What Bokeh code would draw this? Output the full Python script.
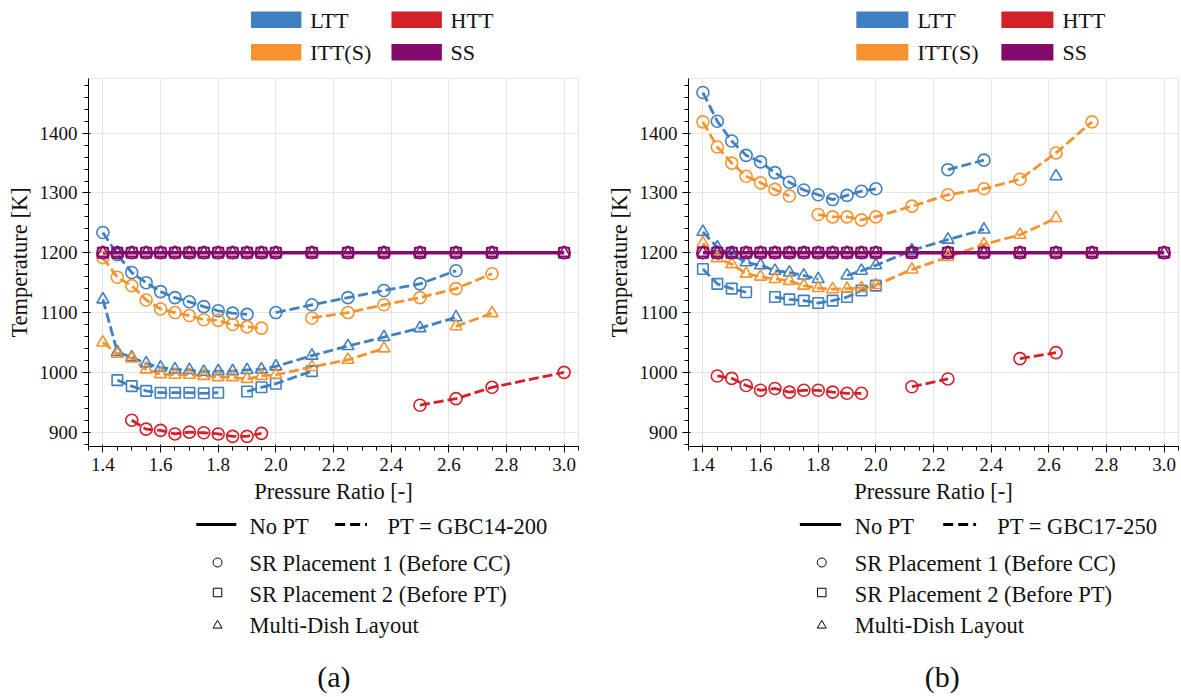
import numpy as np
from bokeh.plotting import figure
from bokeh.layouts import row, column
from bokeh.models import Range1d, SingleIntervalTicker, PrintfTickFormatter
from bokeh.core.properties import value
from bokeh.embed import file_html
from bokeh.resources import INLINE

nan = np.nan

# Pressure-ratio grid shared by every series (NaN = no converged design point)
pressure_ratio = [1.4, 1.45, 1.5, 1.55, 1.6, 1.65, 1.7, 1.75, 1.8, 1.85, 1.9, 1.95,
                  2.0, 2.125, 2.25, 2.375, 2.5, 2.625, 2.75, 3.0]

# ---- (a) PT = GBC14-200 : turbine inlet temperature [K]
a_ltt_sr1 = [1234, 1197, 1167, 1150, 1135, 1125, 1118, 1110, 1103, 1099, 1097, nan,
             1100, 1113, 1125, 1137, 1148, 1170, nan, nan]
a_ltt_sr2 = [nan, 987, 977, 969, 966, 966, 966, 965, 966, nan, 968, 975,
             981, 1002, nan, nan, nan, nan, nan, nan]
a_ltt_md = [1122, 1034, 1025, 1015, 1008, 1005, 1004, 1001, 1002, 1002, 1004, 1005,
            1010, 1028, 1044, 1059, 1074, 1092, nan, nan]
a_itt_sr1 = [1192, 1159, 1145, 1121, 1106, 1100, 1095, 1088, 1087, 1080, 1076, 1074,
             nan, 1091, 1100, 1113, 1125, 1140, 1165, nan]
a_itt_md = [1050, 1031, 1023, 1005, 997, 996, 996, 994, 992, 992, 989, 994,
            996, 1009, 1021, 1040, nan, 1077, 1099, nan]
a_htt_sr1 = [nan, nan, 920, 905, 903, 897, 900, 899, 897, 893, 893, 898,
             nan, nan, nan, nan, 945, 956, 975, 1000]
a_ss = [1200] * 20

# ---- (b) PT = GBC17-250
b_ltt_sr1 = [1468, 1420, 1387, 1363, 1352, 1334, 1318, 1305, 1297, 1289, 1296, 1303,
             1307, nan, 1339, 1355, nan, nan, nan, nan]
b_ltt_sr2 = [1173, 1148, 1140, 1134, nan, 1126, 1122, 1120, 1116, 1120, 1126, 1137,
             1145, nan, nan, nan, nan, nan, nan, nan]
b_ltt_md = [1235, 1209, 1197, 1184, 1179, 1170, 1167, 1162, 1156, nan, 1162, 1170,
            1179, 1204, 1222, 1239, nan, 1328, nan, nan]
b_itt_sr1 = [1419, 1377, 1350, 1328, 1317, 1306, 1295, nan, 1264, 1260, 1260, 1255,
             1260, 1278, 1297, 1307, 1323, 1367, 1419, nan]
b_itt_md = [1216, 1191, 1181, 1165, 1160, 1156, 1153, 1145, 1141, 1139, 1140, 1141,
            1146, 1172, 1193, 1214, 1230, 1258, nan, nan]
b_htt_sr1 = [nan, 994, 990, 978, 970, 973, 967, 970, 970, 967, 965, 965,
             nan, 976, 989, nan, 1023, 1033, nan, nan]
b_ss = [1200] * 20

cycle_names = ["LTT", "HTT", "ITT(S)", "SS"]
marker_names = ["SR Placement 1 (Before CC)", "SR Placement 2 (Before PT)", "Multi-Dish Layout"]

C_LTT = "#4080c1"
C_ITT = "#f7932f"
C_HTT = "#d42027"
C_SS = "#840b6b"
cycle_colors = [C_LTT, C_HTT, C_ITT, C_SS]

FONT = "Liberation Serif"
INK = "#111111"

TOP_H, MAIN_H, BOT_H = 70, 438, 189


def main_plot(width, series, ss):
    p = figure(width=width, height=MAIN_H,
               x_range=Range1d(1.35, 3.05), y_range=Range1d(876, 1491.5),
               output_backend="svg", toolbar_location=None,
               min_border_left=88, min_border_right=width - 88 - 490,
               min_border_top=8, min_border_bottom=62)
    p.xaxis.ticker = SingleIntervalTicker(interval=0.2, num_minor_ticks=4)
    p.xaxis.formatter = PrintfTickFormatter(format="%.1f")
    p.yaxis.ticker = SingleIntervalTicker(interval=100, num_minor_ticks=5)
    p.xaxis.axis_label = "Pressure Ratio [-]"
    p.yaxis.axis_label = "Temperature [K]"
    for ax in (p.xaxis, p.yaxis):
        ax.major_label_text_font = FONT
        ax.major_label_text_font_size = "19px"
        ax.major_label_text_color = INK
        ax.axis_label_text_font = FONT
        ax.axis_label_text_font_size = "22.5px"
        ax.axis_label_text_font_style = "normal"
        ax.axis_label_text_color = INK

    # dashed cycles with a power turbine
    for vals, col, mk in series:
        p.line(pressure_ratio, vals, line_color=col, line_width=2.8, line_dash="10 4")
    # simple cycle: no power turbine, solid line
    p.line(pressure_ratio, ss, line_color=C_SS, line_width=3.5)

    sizes = {"circle": 12, "square": 10.5, "triangle": 12}
    for vals, col, mk in series:
        p.scatter(pressure_ratio, vals, marker=mk, size=sizes[mk], fill_color=None,
                  line_color=col, line_width=1.6)
    for mk in ("circle", "square", "triangle"):
        p.scatter(pressure_ratio, ss, marker=mk, size=sizes[mk], fill_color=None,
                  line_color=C_SS, line_width=1.6)
    return p


def bare(width, height):
    f = figure(width=width, height=height, x_range=Range1d(0, width),
               y_range=Range1d(height, 0), output_backend="svg",
               toolbar_location=None, min_border=0,
               x_axis_location=None, y_axis_location=None)
    f.outline_line_color = None
    f.grid.visible = False
    return f


def top_legend(width):
    t = bare(width, TOP_H)
    left = [199, 371, 199, 371]
    top = [11, 11, 43.5, 43.5]
    t.quad(left=left, right=[x + 61.7 for x in left], top=top,
           bottom=[y + 16.5 for y in top], fill_color=cycle_colors, line_color=None)
    t.text(x=[x + 72.4 for x in left], y=[y + 8.5 for y in top], text=cycle_names,
           text_font=value(FONT), text_font_size=value("22px"),
           text_baseline="middle", text_color=INK)
    return t


def bottom_legend(width, pt_name, tag):
    b = bare(width, BOT_H)
    b.line([132, 181], [16, 16], line_color="black", line_width=2.8)
    b.line([302, 341], [16, 16], line_color="black", line_width=2.8, line_dash="10 5")
    b.scatter([158], [54], marker="circle", size=9, fill_color=None, line_color="black")
    b.scatter([158], [84], marker="square", size=8.5, fill_color=None, line_color="black")
    b.scatter([158], [117], marker="triangle", size=9, fill_color=None, line_color="black")
    b.text(x=[197, 366, 197, 197, 197], y=[18, 18, 55, 86, 117],
           text=["No PT", "PT = " + pt_name] + marker_names,
           text_font=value(FONT), text_font_size=value("22.5px"),
           text_baseline="middle", text_color=INK)
    b.text(x=[280], y=[168], text=[tag], text_font=value(FONT),
           text_font_size=value("30px"), text_baseline="middle", text_color=INK)
    return b


series_a = [
    (a_ltt_sr1, C_LTT, "circle"), (a_ltt_sr2, C_LTT, "square"), (a_ltt_md, C_LTT, "triangle"),
    (a_itt_sr1, C_ITT, "circle"), (a_itt_md, C_ITT, "triangle"),
    (a_htt_sr1, C_HTT, "circle"),
]
series_b = [
    (b_ltt_sr1, C_LTT, "circle"), (b_ltt_sr2, C_LTT, "square"), (b_ltt_md, C_LTT, "triangle"),
    (b_itt_sr1, C_ITT, "circle"), (b_itt_md, C_ITT, "triangle"),
    (b_htt_sr1, C_HTT, "circle"),
]

panel_a = column(top_legend(600), main_plot(600, series_a, a_ss),
                 bottom_legend(600, "GBC14-200", "(a)"))
panel_b = column(top_legend(581), main_plot(581, series_b, b_ss),
                 bottom_legend(581, "GBC17-250", "(b)"))
layout = row(panel_a, panel_b)

open("out.html", "w").write(file_html(layout, INLINE))
